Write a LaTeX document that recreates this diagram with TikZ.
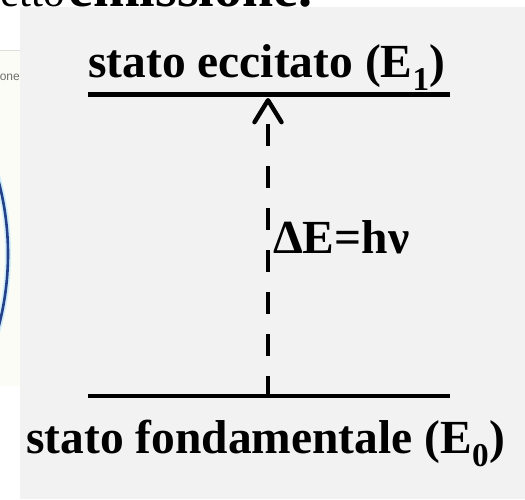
\documentclass[tikz,border=0pt]{standalone}
\usepackage{fontspec}
\setmainfont{Liberation Serif}
\setsansfont{Liberation Sans}
\usepackage{tikz}
\usetikzlibrary{arrows.meta}
\definecolor{panelgray}{RGB}{242,242,242}
\definecolor{photocream}{RGB}{252,252,246}
\definecolor{photoedge}{RGB}{222,222,218}
\definecolor{ringblue}{RGB}{36,64,138}
\definecolor{ringglow}{RGB}{208,238,250}
\definecolor{captiongray}{RGB}{110,110,110}
\tikzset{
  level/.style={draw=black,line width=4.6pt},
  jump/.style={
    -{Straight Barb[length=22pt,width=27pt,round]},
    draw=black,
    line width=4.4pt,
    dash pattern=on 22pt off 20pt
  },
  levellabel/.style={font=\fontsize{47.5}{50}\selectfont\bfseries,inner sep=0pt},
  slidetext/.style={font=\fontsize{56}{58}\selectfont,inner sep=0pt},
  tinytext/.style={font=\sffamily\fontsize{12}{13}\selectfont,text=captiongray,inner sep=0pt}
}

\begin{document}
\begin{tikzpicture}[x=1pt,y=-1pt]
  \useasboundingbox (0,0) rectangle (525,499);
  \clip (0,0) rectangle (525,499);
  \fill[white] (0,0) rectangle (525,499);

  % Cropped photo on the left
  \fill[photocream] (0,50) rectangle (20,386);
  \draw[photoedge,line width=0.8pt] (0,50.5) -- (20,50.5);
  \begin{scope}
    \clip (0,50) rectangle (20,386);
    \draw[ringglow,line width=6pt] (-276,254) circle[radius=284];
    \draw[ringblue,line width=2.6pt] (-276,254) circle[radius=284];
    \node[tinytext,anchor=base east] (photolabel) at (20,80) {one};
  \end{scope}

  % Panel
  \fill[panelgray] (20,6.5) rectangle (525,499);

  % Slide text cut by the top edge
  \node[slidetext,anchor=base west,font=\fontsize{43}{45}\selectfont]
    (slideword) at (0.5,6.5) {etto};
  \node[slidetext,anchor=base west,font=\fontsize{56}{58}\selectfont\bfseries]
    (slidebold) at (68,6.5) {emissione.};

  % Energy levels
  \coordinate (excitedleft) at (88,94.5);
  \coordinate (excitedright) at (450,94.5);
  \coordinate (groundleft) at (88,396);
  \coordinate (groundright) at (450,396);
  \draw[level] (excitedleft) -- (excitedright);
  \draw[level] (groundleft) -- (groundright);

  \node[levellabel,anchor=base west] (excitedlabel) at (88,77)
    {stato eccitato (E\textsubscript{1})};
  \node[levellabel,anchor=base west] (groundlabel) at (26,453)
    {stato fondamentale (E\textsubscript{0})};

  % Transition
  \coordinate (jumpfrom) at (268,398);
  \coordinate (jumpto) at (268,98);
  \draw[jump] (jumpfrom) -- (jumpto);
  \node[levellabel,anchor=base west] (gaplabel) at (273,253) {ΔE=hν};
\end{tikzpicture}
\end{document}
